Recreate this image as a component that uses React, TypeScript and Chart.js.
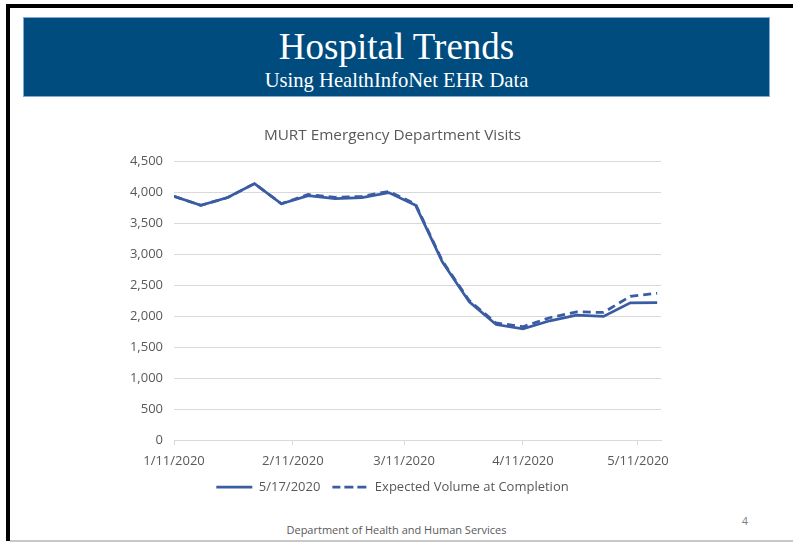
import React, { useEffect, useRef } from 'react';
import { Chart, registerables } from 'chart.js';

Chart.register(...registerables);

const weekDates = [
  '1/11/2020', '1/18/2020', '1/25/2020', '2/1/2020', '2/8/2020', '2/15/2020', '2/22/2020',
  '2/29/2020', '3/7/2020', '3/14/2020', '3/21/2020', '3/28/2020', '4/4/2020', '4/11/2020',
  '4/18/2020', '4/25/2020', '5/2/2020', '5/9/2020', '5/16/2020',
];
const visitsAsOf0517 = [
  3935, 3790, 3915, 4140, 3815, 3945, 3900, 3915, 3995, 3790,
  2875, 2230, 1865, 1795, 1925, 2015, 1995, 2215, 2220,
];
const expectedVolume = [
  3935, 3790, 3915, 4140, 3815, 3965, 3920, 3935, 4015, 3810,
  2890, 2250, 1890, 1830, 1975, 2070, 2060, 2320, 2370,
];
const xTickDates = ['1/11/2020', '2/11/2020', '3/11/2020', '4/11/2020', '5/11/2020'];
const axisEndDate = '5/17/2020';
const seriesNames = ['5/17/2020', 'Expected Volume at Completion'];
const chartTitle = 'MURT Emergency Department Visits';
const yMax = 4500;
const yStep = 500;

const LINE_COLOR = '#3A5CA3';
const TEXT_COLOR = '#595959';
const GRID_COLOR = '#D9D9D9';
const FONT = "'Open Sans', 'Noto Sans', sans-serif";

function dayOffset(d: string): number {
  const [m, dd, y] = d.split('/').map(Number);
  const [m0, d0, y0] = xTickDates[0].split('/').map(Number);
  return Math.round((Date.UTC(y, m - 1, dd) - Date.UTC(y0, m0 - 1, d0)) / 86400000);
}

export default function App() {
  const canvasRef = useRef<HTMLCanvasElement | null>(null);

  useEffect(() => {
    if (!canvasRef.current) return;
    const tickValues = xTickDates.map(dayOffset);
    const chart = new Chart(canvasRef.current, {
      type: 'line',
      data: {
        datasets: [
          {
            label: seriesNames[0],
            data: weekDates.map((d, i) => ({ x: dayOffset(d), y: visitsAsOf0517[i] })),
            borderColor: LINE_COLOR,
            backgroundColor: LINE_COLOR,
            borderWidth: 2.75,
            pointRadius: 0,
            tension: 0,
            order: 1,
          },
          {
            label: seriesNames[1],
            data: weekDates.map((d, i) => ({ x: dayOffset(d), y: expectedVolume[i] })),
            borderColor: LINE_COLOR,
            backgroundColor: LINE_COLOR,
            borderWidth: 2.75,
            borderDash: [8, 5],
            pointRadius: 0,
            tension: 0,
            order: 2,
          },
        ],
      },
      options: {
        animation: false,
        responsive: false,
        maintainAspectRatio: false,
        layout: { padding: { left: 124, right: 132, top: 126, bottom: 38.5 } },
        plugins: {
          title: {
            display: true,
            text: chartTitle,
            color: TEXT_COLOR,
            font: { family: FONT, size: 15.3, weight: 'normal' },
            padding: { top: 0, bottom: 17 },
          },
          legend: {
            position: 'bottom',
            labels: {
              color: TEXT_COLOR,
              font: { family: FONT, size: 13 },
              usePointStyle: false,
              boxWidth: 36,
              boxHeight: 0,
              padding: 12,
            },
          },
          tooltip: { enabled: false },
        },
        scales: {
          x: {
            type: 'linear',
            min: 0,
            max: dayOffset(axisEndDate),
            afterBuildTicks: (scale: any) => {
              scale.ticks = tickValues.map((v) => ({ value: v }));
            },
            afterFit: (scale: any) => {
              scale.height = 28.5;
            },
            ticks: {
              autoSkip: false,
              maxRotation: 0,
              color: TEXT_COLOR,
              font: { family: FONT, size: 13 },
              padding: 8,
              callback: (v: any) => {
                const idx = tickValues.indexOf(Number(v));
                return idx >= 0 ? xTickDates[idx] : '';
              },
            },
            grid: {
              display: true,
              drawOnChartArea: false,
              drawTicks: true,
              tickLength: 5,
              color: GRID_COLOR,
            },
            border: { display: true, color: GRID_COLOR, width: 1 },
          },
          y: {
            min: 0,
            max: yMax,
            afterFit: (scale: any) => {
              scale.width = 50;
            },
            ticks: {
              stepSize: yStep,
              color: TEXT_COLOR,
              font: { family: FONT, size: 13 },
              padding: 11,
              callback: (v: any) => Number(v).toLocaleString('en-US'),
            },
            grid: { color: GRID_COLOR, drawTicks: false },
            border: { display: false },
          },
        },
      },
    });
    return () => chart.destroy();
  }, []);

  return (
    <div style={{ position: 'fixed', left: 0, top: 0, width: 793, height: 542, background: '#fff', overflow: 'hidden' }}>
      <div style={{ position: 'absolute', left: 6, top: 4, width: 787, height: 4, background: '#000' }} />
      <div style={{ position: 'absolute', left: 6, top: 4, width: 4, height: 537, background: '#000' }} />
      <div style={{ position: 'absolute', left: 10, top: 540, width: 783, height: 2, background: '#C8C8C8' }} />
      <div
        style={{
          position: 'absolute', left: 23, top: 17, width: 745, height: 78,
          background: '#004C7F', border: '1px solid #7FA9D9', color: '#fff',
          fontFamily: "'Liberation Serif', 'Times New Roman', serif", textAlign: 'center',
        }}
      >
        <div style={{ position: 'absolute', left: 0, right: 0, top: 9, fontSize: 37, lineHeight: '40px' }}>Hospital Trends</div>
        <div style={{ position: 'absolute', left: 0, right: 0, top: 50, fontSize: 20.6, lineHeight: '24px' }}>Using HealthInfoNet EHR Data</div>
      </div>
      <div style={{ position: 'absolute', left: 0, width: 793, top: 522, textAlign: 'center', fontFamily: FONT, fontSize: 11, color: TEXT_COLOR, lineHeight: '16px' }}>
        Department of Health and Human Services
      </div>
      <div style={{ position: 'absolute', left: 738, top: 513, width: 14, textAlign: 'center', fontFamily: FONT, fontSize: 11, color: '#808080', lineHeight: '16px' }}>4</div>
      <canvas ref={canvasRef} width={793} height={542} style={{ position: 'absolute', left: 0, top: 0, width: 793, height: 542 }} />
    </div>
  );
}
